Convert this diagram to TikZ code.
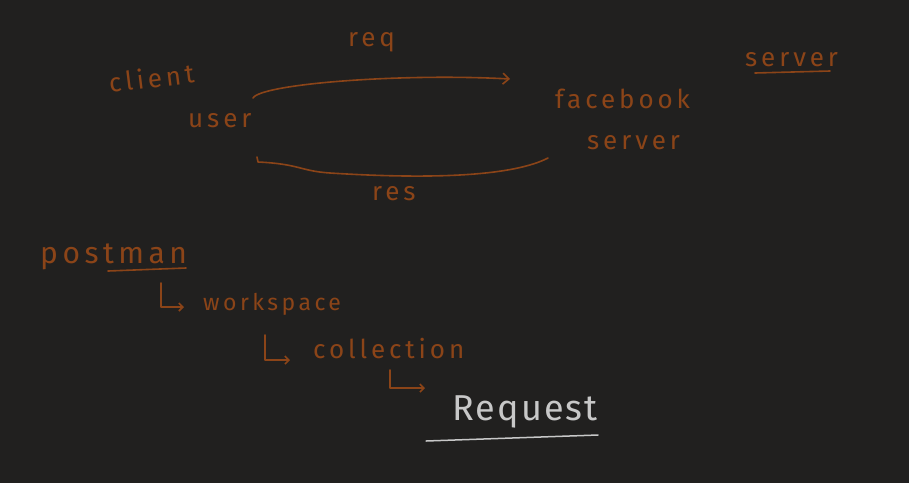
\documentclass[tikz,border=0pt]{standalone}
\usepackage{fontspec}
\usepackage{tikz}
\usetikzlibrary{arrows.meta}
\usepackage{xcolor}
\newfontfamily\handfont[LetterSpace=15]{Fira Sans}
\newfontfamily\penfont[LetterSpace=6]{Fira Sans}
\definecolor{board}{RGB}{33,32,31}
\definecolor{rust}{RGB}{139,68,24}
\definecolor{chalk}{RGB}{200,200,200}

\begin{document}
\begin{tikzpicture}[x=1pt, y=-1pt,
        ink/.style={draw=rust, line width=1.6pt, line cap=round, line join=round},
        tip/.style={-{Straight Barb[length=4pt, width=8pt]}},
        word/.style={text=rust, inner sep=0pt, anchor=base west, font=\handfont\fontsize{26}{26}\selectfont}]
                \fill[board] (0,0) rectangle (909,483);
                \useasboundingbox (0,0) rectangle (909,483);

                % client / server
                \node[word, rotate=7] (client) at (110,93) {client};
                \node[word] (user) at (188,127) {user};
                \node[word] (req) at (348,46) {req};
                \node[word] (res) at (372,200) {res};
                \node[word] (fb) at (555,108) {facebook};
                \node[word] (fbserver) at (587,149) {server};
                \node[word] (server) at (745,66) {server};
                \draw[ink] ([shift={(10,7)}]server.base west) -- ([shift={(85,5)}]server.base west);

                \coordinate (reqend) at (510,79);
                \draw[ink, -{Straight Barb[length=6pt, width=11pt]}] ([shift={(65,-29)}]user.base west) .. controls +(8,-14) and +(-110,-6) .. (reqend);
                \draw[ink] ([shift={(-39,9)}]fbserver.base west) .. controls (515,175) and (440,180) .. (330,173)
                    .. controls (300,171) and (300,164) .. (258,162) -- ([shift={(69,30)}]user.base west);

                % postman
                \node[word, font=\handfont\fontsize{30}{30}\selectfont] (postman) at (40,263) {postman};
                \draw[ink] ([shift={(68,8)}]postman.base west) -- ([shift={(146,5)}]postman.base west);
                \node[word, font=\handfont\fontsize{23}{23}\selectfont] (work) at (203,310) {workspace};
                \node[word] (coll) at (313,358) {collection};
                \node[word, text=chalk, font=\penfont\fontsize{36}{36}\selectfont] (request) at (452,420) {Request};
                \draw[draw=chalk, line width=1.5pt, line cap=round] ([shift={(-26,21)}]request.base west) -- ([shift={(146,15)}]request.base west);

                \draw[ink, tip] ([shift={(121,20)}]postman.base west) |- ([shift={(-19,-3)}]work.base west);
                \draw[ink, tip] ([shift={(62,25)}]work.base west) |- ([shift={(-23,2)}]coll.base west);
                \draw[ink, tip] ([shift={(77,12)}]coll.base west) |- ([shift={(-27,-32)}]request.base west);
            \end{tikzpicture}
\end{document}
